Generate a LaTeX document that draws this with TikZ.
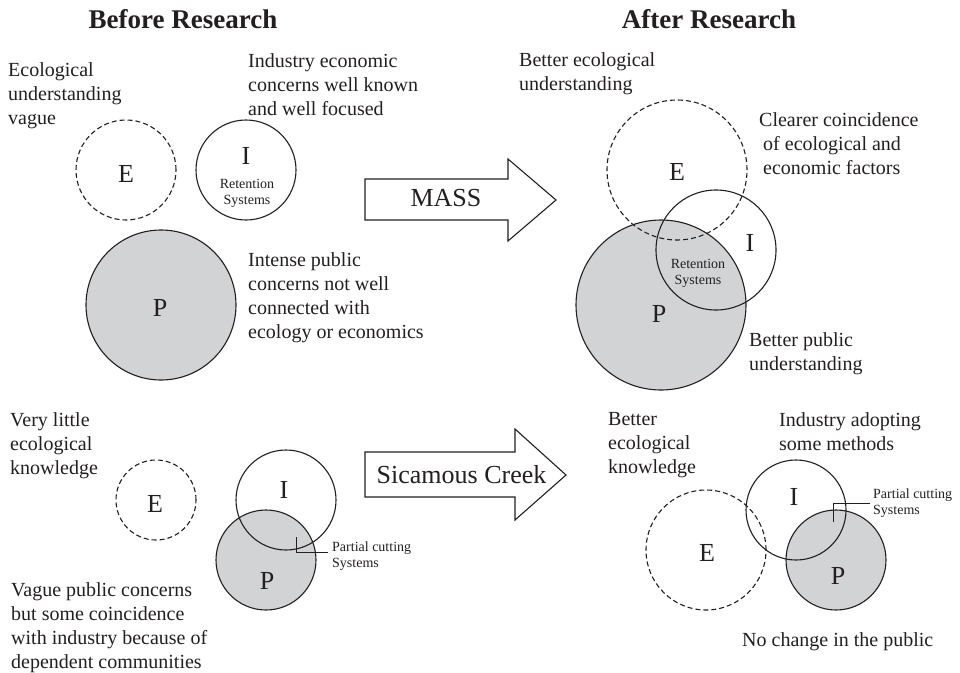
\documentclass[tikz,border=0pt]{standalone}
\usepackage{fontspec}
\setmainfont{Liberation Serif}
\definecolor{pgray}{RGB}{209,211,212}
\definecolor{ink}{RGB}{35,31,32}
\begin{document}
\begin{tikzpicture}[x=1pt,y=-1pt,
  every node/.style={inner sep=0pt, text=ink},
  body/.style={anchor=north west, align=left, font=\fontsize{20}{24}\selectfont},
  titletext/.style={anchor=base, font=\fontsize{27}{32}\selectfont\bfseries},
  letter/.style={font=\fontsize{26}{30}\selectfont},
  smallc/.style={anchor=north, align=center, font=\fontsize{14}{16}\selectfont},
  smalll/.style={anchor=north west, align=left, font=\fontsize{14}{16}\selectfont},
  ring/.style={circle, draw=ink, line width=1.1pt, minimum size=#1},
  dring/.style={ring=#1, dash pattern=on 5pt off 3pt},
  pring/.style={ring=#1, fill=pgray},
  bigarrow/.style={draw=ink, line width=1.1pt, fill=white, line join=miter},
  leader/.style={draw=ink, line width=0.9pt},
  arrowtext/.style={anchor=base, font=\fontsize{26}{30}\selectfont}
]
\useasboundingbox (0,0) rectangle (960,672);

% titles
\node[titletext] (t1) at (183,28) {Before Research};
\node[titletext] (t2) at (709,28) {After Research};

% ---------- top left ----------
\node[dring=100] (tlE) at (126,170) {};
\node[ring=100] (tlI) at (246,170) {};
\node[pring=150] (tlP) at (161,305) {};
\node[letter] (tlEl) at (126,174) {E};
\node[letter] (tlIl) at (246,156) {I};
\node[smallc] (tlR) at (247,179.5) {Retention\\Systems};
\node[letter] (tlPl) at (160,308) {P};
\node[body] (tx1) at (8,62.5) {Ecological\\understanding\\vague};
\node[body] (tx2) at (248,53.5) {Industry economic\\concerns well known\\and well focused};
\node[body] (tx3) at (248,252.5) {Intense public\\concerns not well\\connected with\\ecology or economics};

% ---------- MASS arrow ----------
\draw[bigarrow] (365,179) -- (508,179) -- (508,159) -- (556,200) -- (508,241) -- (508,220) -- (365,220) -- cycle;
\node[arrowtext] (mass) at (446,206) {MASS};

% ---------- top right ----------
\node[pring=170] (trP) at (661,305) {};
\node[dring=140] (trE) at (677,170) {};
\node[ring=120] (trI) at (716,250) {};
\node[letter] (trEl) at (677,172) {E};
\node[letter] (trIl) at (750,243) {I};
\node[smallc] (trR) at (698,259.5) {Retention\\Systems};
\node[letter] (trPl) at (659,314) {P};
\node[body] (tx4) at (519,52.5) {Better ecological\\understanding};
\node[body] (tx5) at (759,112.5) {Clearer coincidence\\\hspace*{4pt}of ecological and\\\hspace*{4pt}economic factors};
\node[body] (tx6) at (749,332.5) {Better public\\understanding};

% ---------- bottom left ----------
\node[dring=80] (blE) at (156,500) {};
\node[pring=100] (blP) at (266,560) {};
\node[ring=100] (blI) at (286,500) {};
\node[letter] (blEl) at (155,504) {E};
\node[letter] (blIl) at (284,490) {I};
\node[letter] (blPl) at (267,581) {P};
\coordinate (lk1) at (296,537);
\coordinate (lk2) at (328,552);
\draw[leader] (lk1) |- (lk2);
\node[smalll] (pc1) at (332,542) {Partial cutting\\Systems};
\node[body] (tx7) at (10,412.5) {Very little\\ecological\\knowledge};
\node[body] (tx8) at (11,582.5) {Vague public concerns\\but some coincidence\\with industry because of\\dependent communities};

% ---------- Sicamous Creek arrow ----------
\draw[bigarrow] (365,452) -- (515,452) -- (515,429) -- (566,475) -- (515,520) -- (515,497) -- (365,497) -- cycle;
\node[arrowtext] (sc) at (461.5,483) {Sicamous Creek};

% ---------- bottom right ----------
\node[dring=120] (brE) at (706,550) {};
\node[pring=100] (brP) at (836,560) {};
\node[ring=100] (brI) at (796,510) {};
\node[letter] (brEl) at (707,553) {E};
\node[letter] (brIl) at (794,497) {I};
\node[letter] (brPl) at (838,576) {P};
\coordinate (lk3) at (833,522);
\coordinate (lk4) at (870,503);
\draw[leader] (lk3) |- (lk4);
\node[smalll] (pc2) at (873,488.5) {Partial cutting\\Systems};
\node[body] (tx9) at (608,412.5) {Better\\ecological\\knowledge};
\node[body] (tx10) at (779,412.5) {Industry adopting\\some methods};
\node[body] (tx11) at (742,632.5) {No change in the public};
\end{tikzpicture}
\end{document}
